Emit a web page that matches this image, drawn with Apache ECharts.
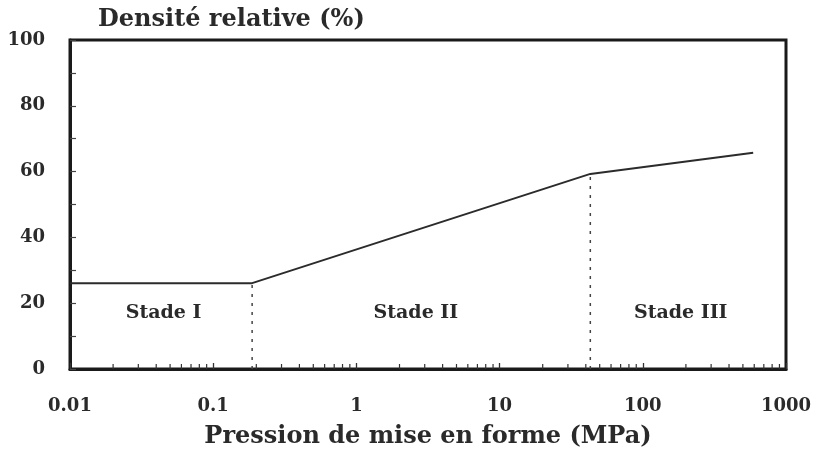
<!DOCTYPE html>
<html>
<head>
<meta charset="utf-8">
<script src="https://cdn.jsdelivr.net/npm/echarts@6/dist/echarts.min.js"></script>
<style>
  html, body { margin: 0; padding: 0; background: #fff; }
  #chart { width: 818px; height: 461px; }
</style>
</head>
<body>
<div id="chart"></div>
<script>
// Compaction curve: relative density vs forming pressure (log scale)
const pressure = [0.01, 0.187, 43, 590];      // MPa
const density = [26.1, 26.1, 59.3, 65.7];     // %

// Stage boundaries (dashed verticals) at the curve's break points
const boundaryIdx = [1, 2];

// Stage captions
const stageNames = ['Stade I', 'Stade II', 'Stade III'];
const stageX = [0.045, 2.6, 184];
const stageY = [17, 17, 17];

// Axis ticks
const xDecades = [0.01, 0.1, 1, 10, 100, 1000];
const yTicks = [0, 20, 40, 60, 80, 100];

const FONT = '"DejaVu Serif", "Liberation Serif", serif';
const INK = '#2a2a2a';

// log minor ticks 2..9 within each decade
const xMinor = [];
xDecades.slice(0, -1).forEach(d => {
  for (let k = 2; k <= 9; k++) xMinor.push([+(d * k).toPrecision(3), 0]);
});

const curve = pressure.map((p, i) => [p, density[i]]);
const boundarySeries = boundaryIdx.map(i => ({
  type: 'line',
  data: [[pressure[i], 0], [pressure[i], density[i]]],
  symbol: 'none',
  silent: true,
  lineStyle: { color: '#444', width: 1.5, type: [3, 6] },
  z: 3
}));

const chart = echarts.init(document.getElementById('chart'), null, { renderer: 'canvas' });
chart.setOption({
  animation: false,
  backgroundColor: '#fff',
  title: {
    text: 'Densité relative (%)',
    left: 98,
    top: 8,
    padding: 0,
    textStyle: { fontFamily: FONT, fontWeight: 'bold', fontSize: 24, color: INK }
  },
  grid: {
    left: 70, right: 32, top: 40, bottom: 92,
    show: true, borderColor: '#1a1a1a', borderWidth: 3
  },
  xAxis: {
    type: 'log',
    logBase: 10,
    min: xDecades[0],
    max: xDecades[xDecades.length - 1],
    name: 'Pression de mise en forme (MPa)',
    nameLocation: 'middle',
    nameGap: 56,
    nameTextStyle: { fontFamily: FONT, fontWeight: 'bold', fontSize: 24, color: INK },
    axisLine: { show: true, lineStyle: { color: '#1a1a1a', width: 3 } },
    axisTick: { show: true, inside: true, length: 6, lineStyle: { color: '#333', width: 1.3 } },
    minorTick: { show: false },
    splitLine: { show: false },
    axisLabel: {
      margin: 28,
      fontFamily: FONT, fontWeight: 'bold', fontSize: 18, color: INK,
      formatter: v => String(+v.toPrecision(3))
    }
  },
  yAxis: {
    type: 'value',
    min: yTicks[0],
    max: yTicks[yTicks.length - 1],
    interval: 20,
    axisLine: { show: true, lineStyle: { color: '#1a1a1a', width: 3 } },
    axisTick: { show: true, inside: true, length: 6, lineStyle: { color: '#444', width: 1.2 } },
    minorTick: { show: true, splitNumber: 2, length: 6, lineStyle: { color: '#444', width: 1.2 } },
    splitLine: { show: false },
    minorSplitLine: { show: false },
    axisLabel: {
      margin: 25,
      fontFamily: FONT, fontWeight: 'bold', fontSize: 18, color: INK
    }
  },
  series: [
    {
      type: 'line',
      data: curve,
      symbol: 'none',
      lineStyle: { color: '#2b2b2b', width: 2 },
      z: 4
    },
    ...boundarySeries,
    {
      type: 'custom',
      data: xMinor,
      silent: true,
      clip: false,
      renderItem: (params, api) => {
        const p = api.coord([api.value(0), api.value(1)]);
        return {
          type: 'line',
          shape: { x1: p[0], y1: p[1], x2: p[0], y2: p[1] - 5 },
          style: { stroke: '#333', lineWidth: 1.2 }
        };
      },
      z: 5
    },
    {
      type: 'custom',
      data: stageNames.map((n, i) => [stageX[i], stageY[i]]),
      silent: true,
      renderItem: (params, api) => {
        const p = api.coord([api.value(0), api.value(1)]);
        return {
          type: 'text',
          x: p[0],
          y: p[1],
          style: {
            text: stageNames[params.dataIndex],
            align: 'center',
            verticalAlign: 'middle',
            fill: INK,
            font: 'bold 19px ' + FONT
          }
        };
      },
      z: 6
    }
  ]
});
</script>
</body>
</html>
